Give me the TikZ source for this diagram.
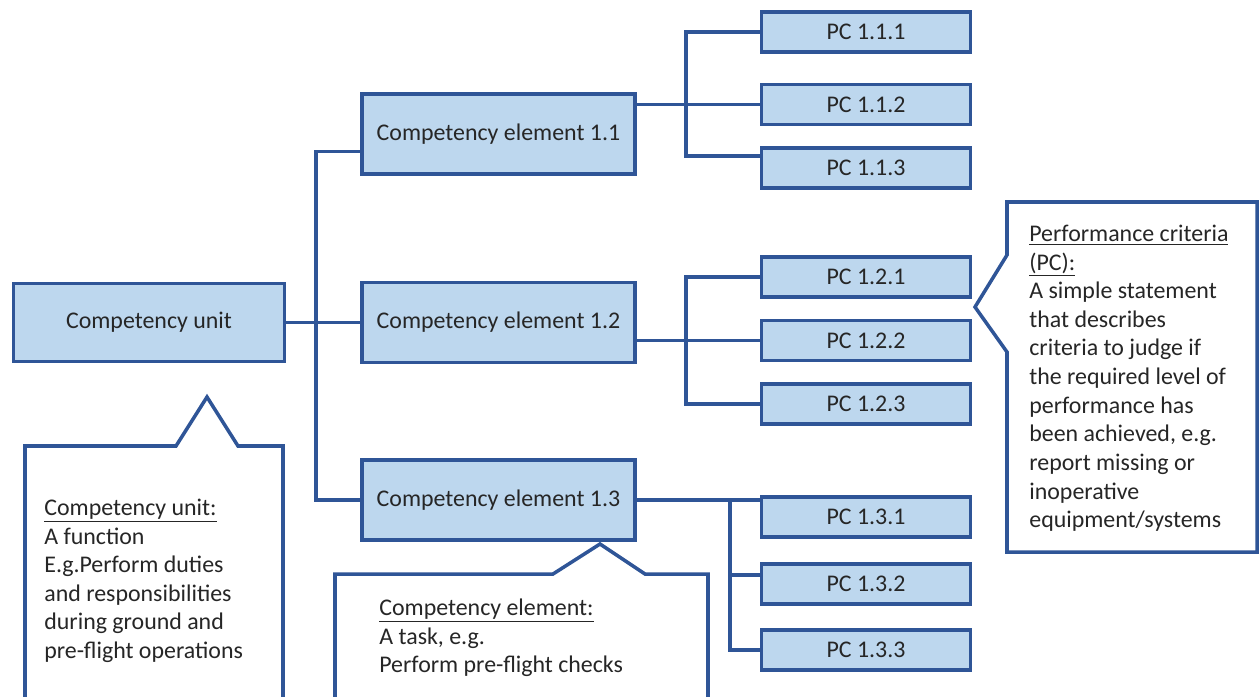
\documentclass[tikz,border=0pt]{standalone}
\usepackage{fontspec}
\setmainfont{Carlito}
\usepackage{tikz}
\usetikzlibrary{positioning, calc}
\definecolor{azulborda}{HTML}{2F5597}
\definecolor{azulfundo}{HTML}{BDD7EE}

\begin{document}
\begin{tikzpicture}[x=0.02cm, y=-0.02cm,
    bloco/.style={draw=azulborda, fill=azulfundo, line width=2pt, align=center, inner sep=2pt, text=black!85, font=\fontsize{13.6}{16.3}\selectfont},
    unid/.style={bloco, minimum width=5.42cm, minimum height=1.56cm},
    elem/.style={bloco, minimum width=5.46cm, minimum height=1.6cm},
    crit/.style={bloco, minimum width=4.18cm, minimum height=0.8cm},
    linha/.style={draw=azulborda, line width=2pt},
    balao/.style={draw=azulborda, line width=2pt, fill=white},
    rot/.style={anchor=north west, inner sep=0pt, align=left, text=black!85, font=\fontsize{13.6}{16.3}\selectfont}
]
\useasboundingbox (0,0) rectangle (1259,697);
\clip (0,0) rectangle (1259,697);

% blocos principais
\node[unid] (unidade) at (149,322.5) {Competency unit};
\node[elem, right=1.48cm of unidade] (el12) {Competency element 1.2};
\node[elem, above=2.1cm of el12] (el11) {Competency element 1.1};
\node[elem, below=1.88cm of el12] (el13) {Competency element 1.3};

% criterios de desempenho
\node[crit] (pc111) at (866,32) {PC 1.1.1};
\node[crit] (pc112) at (866,104.5) {PC 1.1.2};
\node[crit] (pc113) at (866,168) {PC 1.1.3};
\node[crit] (pc121) at (866,277) {PC 1.2.1};
\node[crit] (pc122) at (866,340.5) {PC 1.2.2};
\node[crit] (pc123) at (866,404) {PC 1.2.3};
\node[crit] (pc131) at (866,517) {PC 1.3.1};
\node[crit] (pc132) at (866,584) {PC 1.3.2};
\node[crit] (pc133) at (866,650) {PC 1.3.3};

% ligacoes
\coordinate (x0) at (316,0);
\coordinate (x11) at (686,0);
\coordinate (x13) at (730,0);
\draw[linha] (unidade) -- (el12);
\draw[linha] ($(el11.west)+(0,17.5)$) -| (unidade.east -| x0) |- (el13.west);

\draw[linha] (pc112.west -| el11.east) -- (pc112.west);
\draw[linha] (pc111.west) -| (pc112.west -| x11) |- ($(pc113.west)+(0,-12)$);

\draw[linha] (pc122.west -| el12.east) -- (pc122.west);
\draw[linha] (pc121.west) -| (pc122.west -| x11) |- (pc123.west);

\draw[linha] (el13.east) -- (el13.east -| pc131.west);
\draw[linha] (el13.east -| x13) |- (pc133.west);
\draw[linha] ($(pc132.west -| x13)+(0,-9)$) -- ($(pc132.west)+(0,-9)$);

% baloes explicativos
\draw[balao] (25,710) -- (25,446) -- (176,446) -- (207,397) -- (238,446) -- (283,446) -- (283,710);
\node[rot] (txtunid) at (44,495) {\strut\underline{Competency unit:}\\A function\\E.g.Perform duties\\and responsibilities\\during ground and\\pre-flight operations};

\draw[balao] (335,710) -- (335,574) -- (553,574) -- (600,544) -- (645,574) -- (708,574) -- (708,710);
\node[rot] (txtelem) at (379,595) {\strut\underline{Competency element:}\\A task, e.g.\\Perform pre-flight checks};

\draw[balao] (1007,202) -- (1257,202) -- (1257,552) -- (1007,552) -- (1007,352) -- (975,307) -- (1007,255) -- cycle;
\node[rot] (txtcrit) at (1029,221) {\strut\underline{Performance criteria}\\\underline{(PC):}\\A simple statement\\that describes\\criteria to judge if\\the required level of\\performance has\\been achieved, e.g.\\report missing or\\inoperative\\equipment/systems};
\end{tikzpicture}
\end{document}
